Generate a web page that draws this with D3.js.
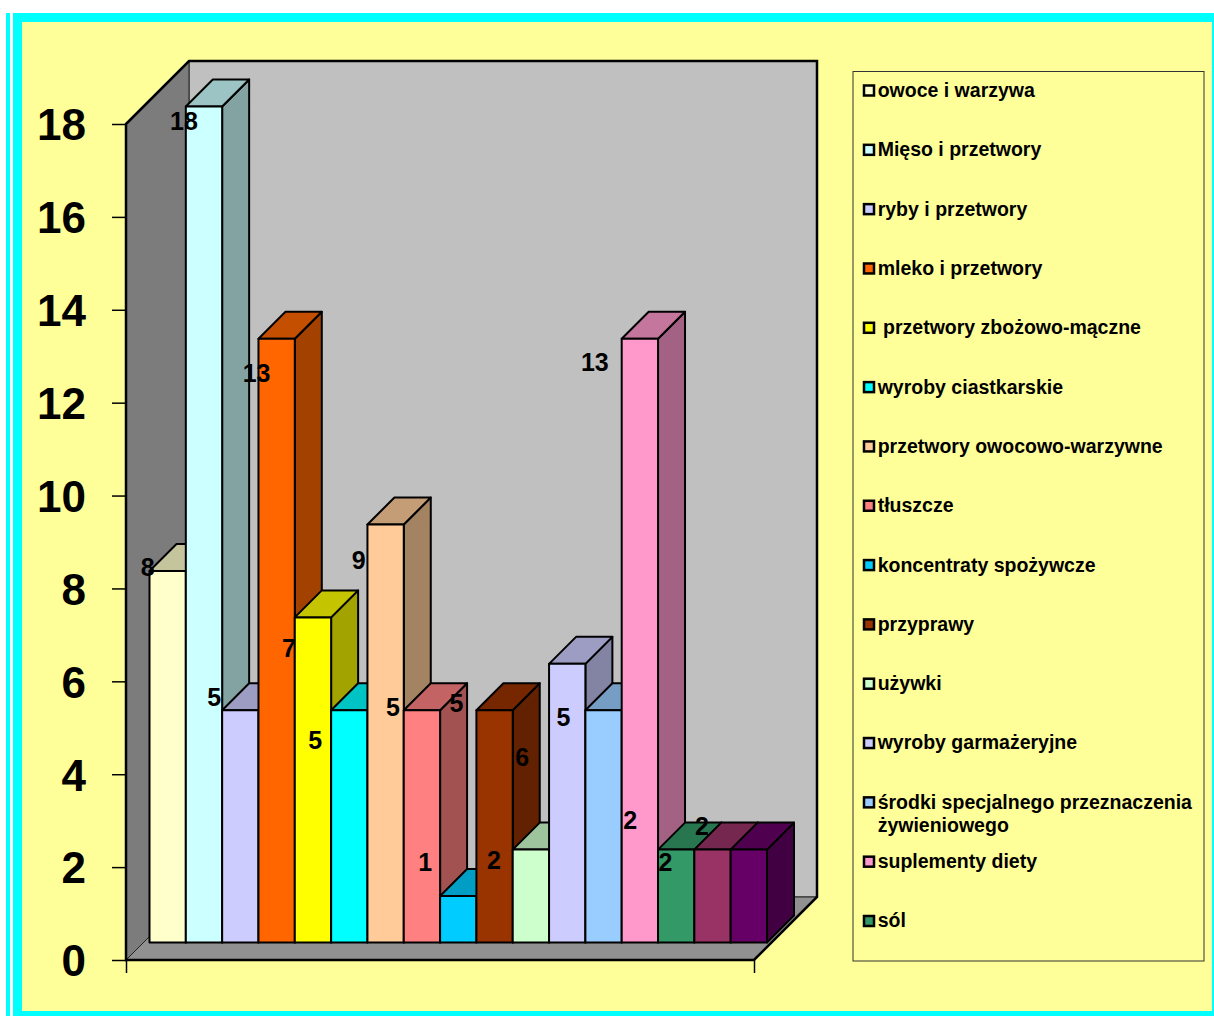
<!DOCTYPE html>
<html lang="pl">
  <head>
    <script src="https://d3js.org/d3.v7.min.js"></script>
    <style>
      html, body {
        margin: 0;
        padding: 0;
        background: #fff;
      }
      svg {
        display: block;
        font-family: "Liberation Sans", Arial, sans-serif;
        font-weight: bold;
      }
      .legend-label {
        white-space: pre;
      }
    </style>
  </head>

  <body>
    <svg width="1214" height="1016"></svg>
    <script>
      // values, one bar per entry
      var values = [8, 18, 5, 13, 7, 5, 9, 5, 1, 5, 2, 6, 5, 13, 2, 2, 2];
      var barColors = [
        "#FFFFCC", "#CCFFFF", "#CCCCFF", "#FF6600", "#FFFF00", "#00FFFF",
        "#FFCC99", "#FF8080", "#00CCFF", "#993300", "#CCFFCC", "#CCCCFF",
        "#99CCFF", "#FF99CC", "#339966", "#993366", "#660066",
      ];
      // legend only shows the first 15 series
      var legendNames = [
        ["owoce i warzywa"],
        ["Mięso i przetwory"],
        ["ryby i przetwory"],
        ["mleko i przetwory"],
        [" przetwory zbożowo-mączne"],
        ["wyroby ciastkarskie"],
        ["przetwory owocowo-warzywne"],
        ["tłuszcze"],
        ["koncentraty spożywcze"],
        ["przyprawy"],
        ["używki"],
        ["wyroby garmażeryjne"],
        ["środki specjalnego przeznaczenia", "żywieniowego"],
        ["suplementy diety"],
        ["sól"],
      ];
      var yTicks = [0, 2, 4, 6, 8, 10, 12, 14, 16, 18];

      // hand placed data labels in the original, offset from top centre of the bar
      var labelDx = [-20, -20, -26, -20, -24, -34, -27, -29, -33, -38, -37, -45, -40, -45, -46, -47, -47];
      var labelDy = [-2, 16, -12, 36, 32, 31, 37, -2, -33, -6, 12, 95, 8, 25, -28, 14, -22];

      var svg = d3.select("svg");

      //page frame
      svg.append("rect").attr("x", 6).attr("y", 13).attr("width", 4).attr("height", 1003).attr("fill", "#00FFFF");
      svg.append("rect").attr("x", 13).attr("y", 13).attr("width", 1201).attr("height", 1003).attr("fill", "#00FFFF");
      svg.append("rect").attr("x", 22).attr("y", 22).attr("width", 1190).attr("height", 989).attr("fill", "#FFFF99");

      //box geometry
      var wallDepth = 63;
      var barDepth = 27;
      var axisY = d3.scaleLinear().domain([0, 18]).range([960, 124]);
      var barY = d3.scaleLinear().domain([0, 18]).range([942.5, 106.5]);
      var x = d3.scaleBand().domain(d3.range(values.length)).range([149.5, 767]);
      var left = 126;
      var right = 754;
      var y0 = axisY(0);
      var y18 = axisY(18);

      function poly(points) {
        return points.map(function (p) { return p.join(","); }).join(" ");
      }

      // corners of the box
      var frontTop = [left, y18];
      var backTop = [left + wallDepth, y18 - wallDepth];
      var backTopRight = [right + wallDepth, y18 - wallDepth];
      var backBottomRight = [right + wallDepth, y0 - wallDepth];
      var backBottom = [left + wallDepth, y0 - wallDepth];
      var frontBottom = [left, y0];
      var frontBottomRight = [right, y0];

      //wall fills with thin inner edges
      svg.append("polygon")
        .attr("points", poly([backTop, backTopRight, backBottomRight, backBottom]))
        .attr("fill", "#C0C0C0")
        .attr("stroke", "#222")
        .attr("stroke-width", 1);
      svg.append("polygon")
        .attr("points", poly([frontTop, backTop, backBottom, frontBottom]))
        .attr("fill", "#7C7C7C")
        .attr("stroke", "#222")
        .attr("stroke-width", 1);
      svg.append("polygon")
        .attr("points", poly([frontBottom, backBottom, backBottomRight, frontBottomRight]))
        .attr("fill", "#919191")
        .attr("stroke", "#222")
        .attr("stroke-width", 1);

      //heavy outer outline of the box
      svg.append("polygon")
        .attr("points", poly([frontTop, backTop, backTopRight, backBottomRight, frontBottomRight, frontBottom]))
        .attr("fill", "none")
        .attr("stroke", "#000")
        .attr("stroke-width", 2.5);

      //y axis, domain line is already the wall edge
      var yAxis = svg.append("g")
        .attr("transform", "translate(" + left + ",0)")
        .call(d3.axisLeft(axisY).tickValues(yTicks).tickSize(14).tickPadding(26));
      yAxis.select(".domain").remove();
      yAxis.selectAll("line").attr("stroke", "#000").attr("stroke-width", 1.5);
      yAxis.selectAll("text")
        .attr("fill", "#000")
        .attr("dy", "0.36em")
        .attr("font-family", "'Liberation Sans', Arial, sans-serif")
        .attr("font-weight", "bold")
        .attr("font-size", 44);

      //x axis has a single unnamed category, so only the two end ticks
      var xAxis = svg.append("g")
        .attr("transform", "translate(0," + y0 + ")")
        .call(d3.axisBottom(d3.scaleLinear().domain([left, right]).range([left, right])).tickValues([left, right]).tickSize(13).tickFormat(""));
      xAxis.select(".domain").remove();
      xAxis.selectAll("line").attr("stroke", "#000").attr("stroke-width", 1.5);

      //bars are painted left to right so the next front hides the previous side
      var bars = svg.selectAll(".bar")
        .data(values)
        .enter()
        .append("g")
        .attr("class", "bar")
        .attr("stroke", "#000")
        .attr("stroke-width", 2)
        .attr("stroke-linejoin", "round");

      function shade(color, k) {
        var c = d3.rgb(color);
        return d3.rgb(c.r * k, c.g * k, c.b * k).formatHex();
      }

      //side face
      bars.append("polygon")
        .attr("points", function (d, i) {
          var xr = x(i) + x.bandwidth();
          return poly([[xr, barY(d)], [xr + barDepth, barY(d) - barDepth], [xr + barDepth, barY(0) - barDepth], [xr, barY(0)]]);
        })
        .attr("fill", function (d, i) { return shade(barColors[i], 0.64); });
      //top face
      bars.append("polygon")
        .attr("points", function (d, i) {
          var xl = x(i);
          var xr = xl + x.bandwidth();
          return poly([[xl, barY(d)], [xl + barDepth, barY(d) - barDepth], [xr + barDepth, barY(d) - barDepth], [xr, barY(d)]]);
        })
        .attr("fill", function (d, i) { return shade(barColors[i], 0.77); });
      //front face
      bars.append("rect")
        .attr("x", function (d, i) { return x(i); })
        .attr("y", function (d) { return barY(d); })
        .attr("width", x.bandwidth())
        .attr("height", function (d) { return barY(0) - barY(d); })
        .attr("fill", function (d, i) { return barColors[i]; });

      //data labels on top of everything
      svg.selectAll(".val")
        .data(values)
        .enter()
        .append("text")
        .attr("class", "val")
        .attr("x", function (d, i) { return x(i) + x.bandwidth() / 2 + labelDx[i]; })
        .attr("y", function (d, i) { return barY(d) + labelDy[i]; })
        .attr("dy", "0.3em")
        .attr("text-anchor", "middle")
        .attr("font-size", 25)
        .attr("fill", "#000")
        .text(function (d) { return d; });

      //legend
      svg.append("rect")
        .attr("x", 853)
        .attr("y", 71.5)
        .attr("width", 351)
        .attr("height", 889.5)
        .attr("fill", "#FFFF99")
        .attr("stroke", "#333")
        .attr("stroke-width", 1);

      var legendY = d3.scalePoint().domain(d3.range(legendNames.length)).range([90.5, 921]);

      var legend = svg.selectAll(".legend")
        .data(legendNames)
        .enter()
        .append("g")
        .attr("class", "legend")
        .attr("transform", function (d, i) { return "translate(863," + legendY(i) + ")"; });

      legend.append("rect")
        .attr("x", 1)
        .attr("y", -5)
        .attr("width", 10)
        .attr("height", 10)
        .attr("fill", function (d, i) { return barColors[i]; })
        .attr("stroke", "#000")
        .attr("stroke-width", 2.5);

      legend.selectAll("text")
        .data(function (d) { return d; })
        .enter()
        .append("text")
        .attr("class", "legend-label")
        .attr("x", 14.7)
        .attr("y", function (d, i) { return i * 23; })
        .attr("dy", "0.33em")
        .attr("font-size", 19.5)
        .attr("fill", "#000")
        .text(function (d) { return d; });
    </script>
  </body>
</html>
